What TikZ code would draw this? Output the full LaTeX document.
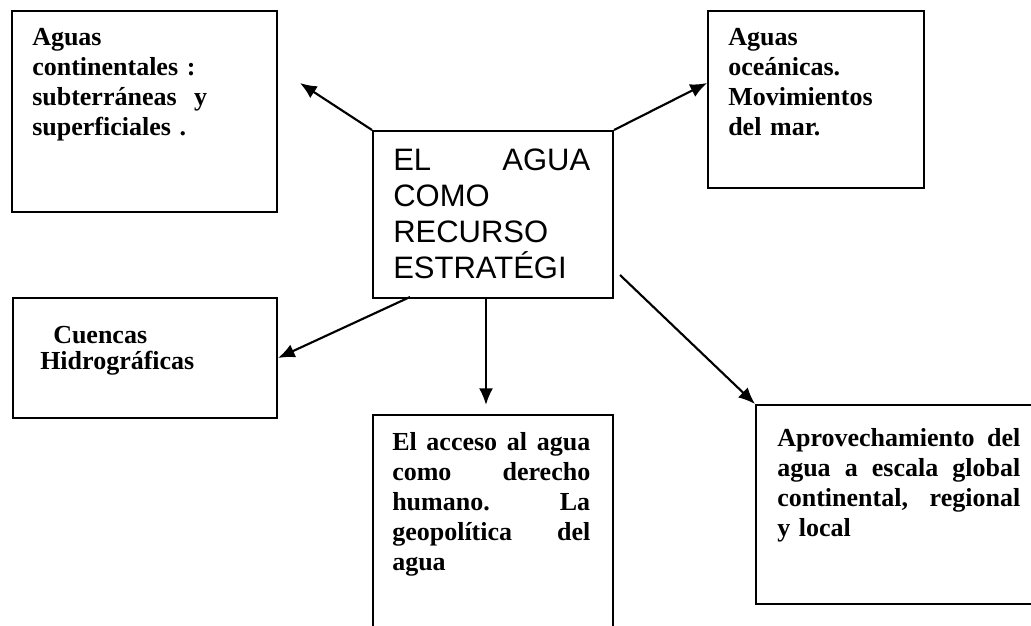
\documentclass[tikz,border=0pt]{standalone}
\usepackage{fontspec}
\setmainfont{Liberation Serif}
\newfontfamily\arialf{Liberation Sans}
\usetikzlibrary{arrows.meta}
\begin{document}
\begin{tikzpicture}[x=0.75pt,y=-0.75pt,
  box/.style={draw,line width=1.5pt,anchor=north west,inner sep=0pt},
  txt/.style={anchor=base west,inner sep=0pt,align=left,font=\fontsize{19.5pt}{22.5pt}\selectfont\bfseries},
  ctxt/.style={anchor=base west,inner sep=0pt,align=left,font=\arialf\fontsize{23.25pt}{27pt}\selectfont},
  conn/.style={line width=1.6pt,-{Latex[length=12.5pt,width=10.5pt]}}]
\useasboundingbox (0,0) rectangle (1031,625);
\clip (0,0) rectangle (1031,625);
% boxes
\node[box,minimum width=265*0.75pt,minimum height=201*0.75pt] (b1) at (11,10) {};
\node[box,minimum width=240*0.75pt,minimum height=167*0.75pt] (c) at (372,130) {};
\node[box,minimum width=216*0.75pt,minimum height=177*0.75pt] (b2) at (707,10) {};
\node[box,minimum width=264*0.75pt,minimum height=120*0.75pt] (b3) at (12,297) {};
\node[box,minimum width=240*0.75pt,minimum height=240*0.75pt] (b4) at (372,414) {};
\node[box,minimum width=300*0.75pt,minimum height=199*0.75pt] (b5) at (755,404) {};
% texts
\node[txt,text width=172.5pt] (t1) at (32,45) {Aguas\\continentales :\\subterráneas~~y\\superficiales .};
\node[txt,text width=135pt] (t2) at (728,45) {Aguas\\oceánicas.\\Movimientos\\del mar.};
\node[txt,text width=165pt,font=\fontsize{19.5pt}{19.5pt}\selectfont\bfseries] (t3) at (40,343) {\hspace*{9.75pt}Cuencas\\Hidrográficas};
\node[txt,text width=148.5pt] (t4) at (392,450) {El\hfill acceso\hfill al\hfill agua\\como\hfill derecho\\humano.\hfill La\\geopolítica\hfill del\\agua};
\node[txt,text width=182.25pt] (t5) at (777,446) {Aprovechamiento\hfill del\\agua\hfill a\hfill escala\hfill global\\continental,\hfill regional\\y local};
\node[ctxt,text width=147.75pt] (tc) at (393,170) {EL\hfill AGUA\\COMO\\RECURSO\\ESTRATÉGI};
% connectors
\coordinate (a1) at (300,83);
\coordinate (a2) at (707,83);
\coordinate (s3) at (410,297);
\coordinate (s4) at (486,297);
\coordinate (a4) at (486,405);
\coordinate (s5) at (620,275);
\draw[conn] (c.north west) -- (a1);
\draw[conn] (c.north east) -- (a2);
\draw[conn] (s3) -- (b3.east);
\draw[conn] (s4) -- (a4);
\draw[conn] (s5) -- (b5.north west);
\end{tikzpicture}
\end{document}
